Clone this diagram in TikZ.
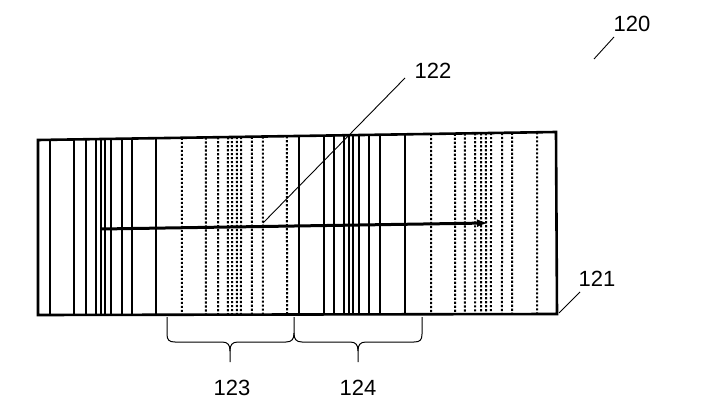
\documentclass[tikz,border=0pt]{standalone}
\usepackage{fontspec}
\setmainfont{Liberation Sans}
\usetikzlibrary{calc,arrows.meta}
\begin{document}
\begin{tikzpicture}[x=1pt,y=-1pt,
  frame/.style={line width=2.6pt,line join=miter},
  solidline/.style={line width=1.8pt},
  dotline/.style={line width=2pt,dash pattern=on 2.2pt off 1.8pt},
  leader/.style={line width=0.9pt},
  bracepath/.style={line width=1pt},
  lbl/.style={font=\fontsize{22}{26}\selectfont, inner sep=0pt}]
\useasboundingbox (0,0) rectangle (715,414);
\coordinate (TL) at (38,140);
\coordinate (TR) at (556,132);
\coordinate (BR) at (557,314);
\coordinate (BL) at (38,315);
% solid lines
\foreach \x in {50,74,86,96,101,105,111,122,132,156,299,324,334,344,349,353,359,369,380,405}
  \draw[solidline] ($(TL)!{(\x-38)/518}!(TR)$) -- ($(BL)!{(\x-38)/519}!(BR)$);
% dotted lines
\foreach \x in {182,206,218,228,232,237,241,252,263,287,431,455,465,475,481,486,491,502,512,537}
  \draw[dotline] ($(TL)!{(\x-38)/518}!(TR)$) -- ($(BL)!{(\x-38)/519}!(BR)$);
% frame
\draw[frame] (TL) -- (TR) -- (BR) -- (BL) -- cycle;
% arrow
\coordinate (AS) at (101,229);
\coordinate (AE) at (488,223);
\draw[line width=3pt,-{Latex[length=11pt,width=8pt]}] (AS) -- (AE);
% labels
\node[lbl] (l120) at (632,24) {120};
\node[lbl] (l122) at (433,71) {122};
\node[lbl] (l121) at (597,279) {121};
\node[lbl] (l123) at (232,388) {123};
\node[lbl] (l124) at (358,388) {124};
% leaders
\coordinate (a120) at (614,37); \coordinate (b120) at (594,59);
\coordinate (a122) at (405,78); \coordinate (b122) at (263,223);
\coordinate (a121) at (580,292); \coordinate (b121) at (559,313);
\draw[leader] (a120) -- (b120);
\draw[leader] (a122) -- (b122);
\draw[leader] (a121) -- (b121);
% braces
\draw[bracepath] (167,317) -- (167,334) .. controls (167,340) and (169,342) .. (175,342) -- (222,342) .. controls (228,342) and (230,345) .. (230,351) -- (230,362);
\draw[bracepath] (230,351) .. controls (230,345) and (232,342) .. (238,342) -- (286,342) .. controls (292,342) and (294,339) .. (294,333) -- (294,317);
\draw[bracepath] (294,333) .. controls (294,339) and (296,342) .. (302,342) -- (350,342) .. controls (356,342) and (358,345) .. (358,351) -- (358,362);
\draw[bracepath] (358,351) .. controls (358,345) and (360,342) .. (366,342) -- (414,342) .. controls (420,342) and (422,340) .. (422,334) -- (422,317);
\end{tikzpicture}
\end{document}
